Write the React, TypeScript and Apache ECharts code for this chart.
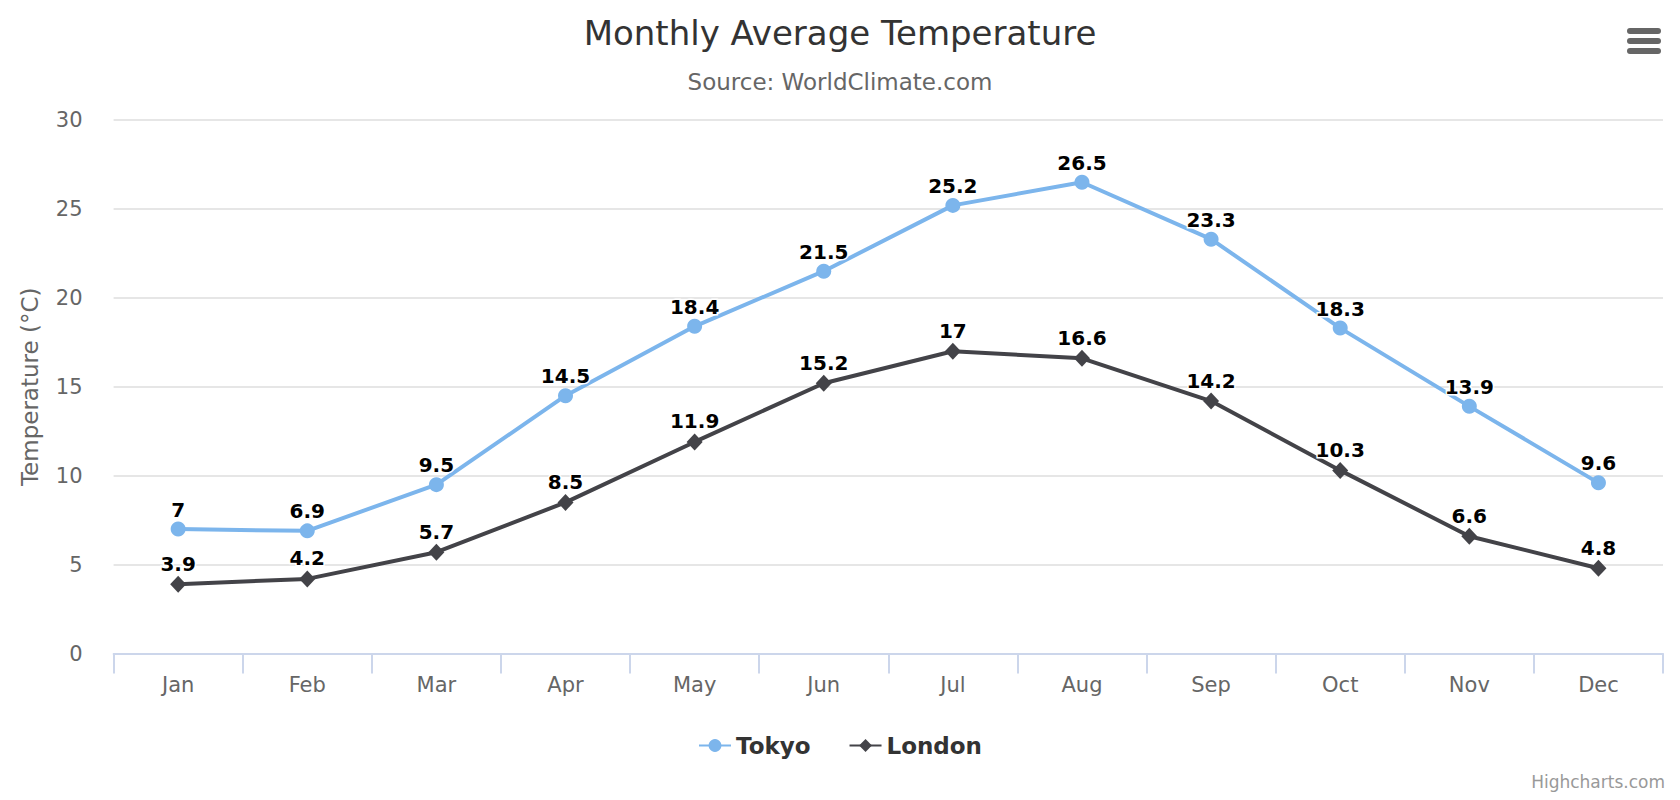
import React, { useEffect, useRef } from "react";
import * as echarts from "echarts";

const categories = ["Jan", "Feb", "Mar", "Apr", "May", "Jun", "Jul", "Aug", "Sep", "Oct", "Nov", "Dec"];
const tokyo = [7.0, 6.9, 9.5, 14.5, 18.4, 21.5, 25.2, 26.5, 23.3, 18.3, 13.9, 9.6];
const london = [3.9, 4.2, 5.7, 8.5, 11.9, 15.2, 17.0, 16.6, 14.2, 10.3, 6.6, 4.8];
const seriesNames = ["Tokyo", "London"];
const titleText = "Monthly Average Temperature";
const subtitleText = "Source: WorldClimate.com";
const yAxisName = "Temperature (°C)";
const creditsText = "Highcharts.com";

const FONT = "'DejaVu Sans', Verdana, sans-serif";

export default function App() {
  const ref = useRef<HTMLDivElement>(null);
  useEffect(() => {
    document.body.style.margin = "0";
    const chart = echarts.init(ref.current!, null, { renderer: "svg" });
    const labelStyle = {
      show: true,
      position: "top" as const,
      distance: 2,
      fontFamily: FONT,
      fontSize: 20,
      fontWeight: "bold" as const,
      color: "#000",
      textBorderColor: "#fff",
      textBorderWidth: 3,
      formatter: (p: any) => String(p.value),
    };
    chart.setOption({
      animation: false,
      backgroundColor: "#fff",
      textStyle: { fontFamily: FONT },
      title: [
        {
          text: titleText,
          left: "center",
          top: 11,
          textStyle: { fontFamily: FONT, fontSize: 34, fontWeight: "normal", color: "#333" },
        },
        {
          text: subtitleText,
          left: "center",
          top: 65,
          textStyle: { fontFamily: FONT, fontSize: 23, fontWeight: "normal", color: "#666" },
        },
      ],
      legend: {
        data: seriesNames,
        left: "center",
        top: 729,
        itemWidth: 32,
        itemHeight: 16,
        itemGap: 38,
        textStyle: { fontFamily: FONT, fontSize: 23, fontWeight: "bold", color: "#333" },
      },
      grid: { left: 113.6, right: 17, top: 120, bottom: 146.4, containLabel: false },
      xAxis: {
        type: "category",
        data: categories,
        boundaryGap: true,
        axisLine: { lineStyle: { color: "#ccd6eb", width: 2 } },
        axisTick: { show: true, length: 20, lineStyle: { color: "#ccd6eb", width: 2 } },
        axisLabel: { fontFamily: FONT, fontSize: 21, color: "#666", margin: 21 },
      },
      yAxis: {
        type: "value",
        min: 0,
        max: 30,
        interval: 5,
        name: yAxisName,
        nameLocation: "middle",
        nameGap: 72,
        nameTextStyle: { fontFamily: FONT, fontSize: 23, color: "#666" },
        axisLine: { show: false },
        axisTick: { show: false },
        axisLabel: { fontFamily: FONT, fontSize: 21, color: "#666", margin: 31 },
        splitLine: { lineStyle: { color: "#e6e6e6", width: 2 } },
      },
      series: [
        {
          name: seriesNames[0],
          type: "line",
          data: tokyo,
          symbol: "circle",
          symbolSize: 15,
          itemStyle: { color: "#7cb5ec" },
          lineStyle: { color: "#7cb5ec", width: 4 },
          label: labelStyle,
        },
        {
          name: seriesNames[1],
          type: "line",
          data: london,
          symbol: "diamond",
          symbolSize: [16, 17],
          itemStyle: { color: "#434348" },
          lineStyle: { color: "#434348", width: 4 },
          label: labelStyle,
        },
      ],
      graphic: [
        { type: "rect", shape: { x: 1627, y: 28, width: 34, height: 6, r: 3 }, style: { fill: "#666" } },
        { type: "rect", shape: { x: 1627, y: 38, width: 34, height: 6, r: 3 }, style: { fill: "#666" } },
        { type: "rect", shape: { x: 1627, y: 48, width: 34, height: 6, r: 3 }, style: { fill: "#666" } },
        {
          type: "text",
          right: 15,
          top: 773,
          style: { text: creditsText, fontFamily: FONT, fontSize: 17, fill: "#999" },
        },
      ],
    });
    return () => chart.dispose();
  }, []);
  return <div ref={ref} style={{ width: 1680, height: 800 }} />;
}
